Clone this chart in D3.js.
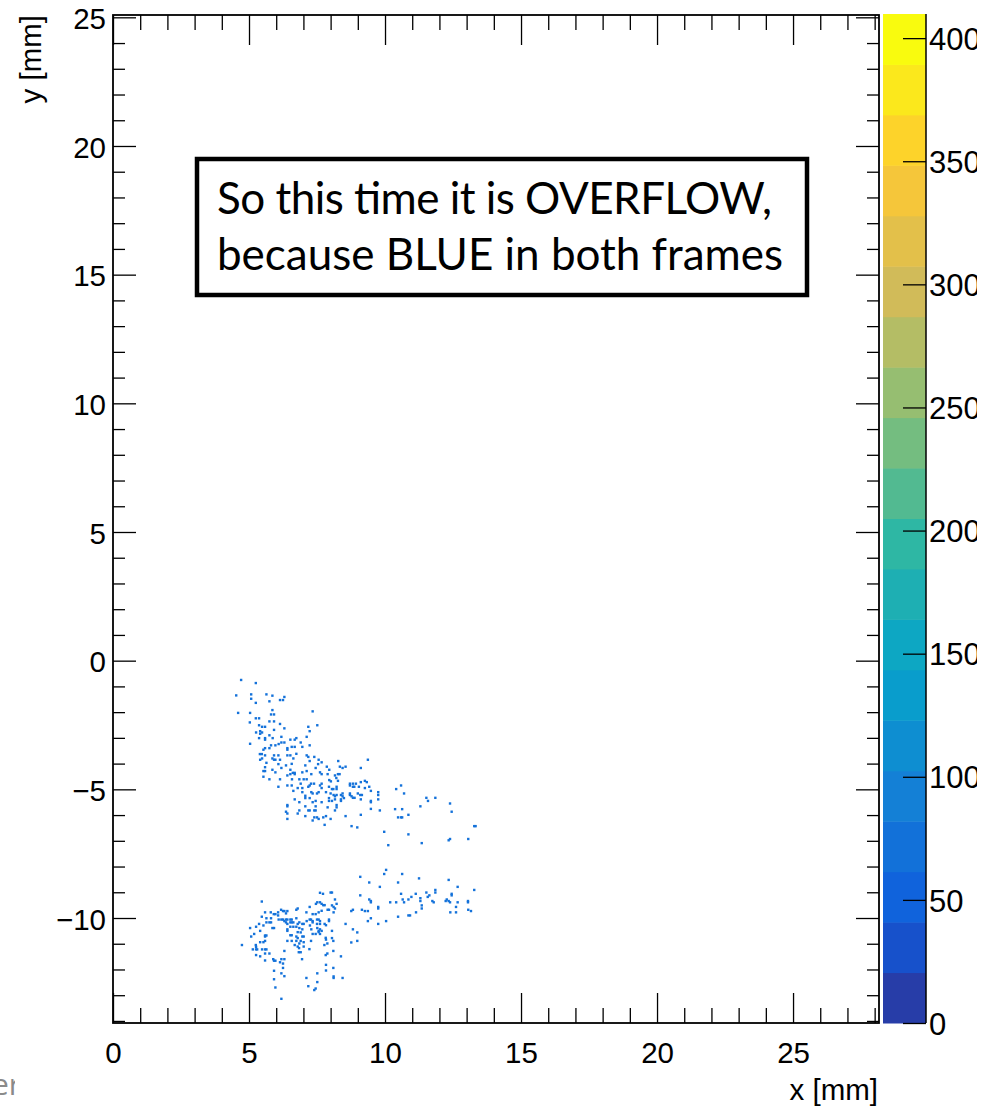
<!DOCTYPE html>
<html><head><meta charset="utf-8">
<script src="https://cdn.jsdelivr.net/npm/d3@7"></script>
<style>html,body{margin:0;padding:0;background:#fff;} svg{display:block;}</style>
</head><body>
<script>
// ---------- data ----------
const xTicks = [0, 5, 10, 15, 20, 25];
const yTicks = [-10, -5, 0, 5, 10, 15, 20, 25];
const zTicks = [0, 50, 100, 150, 200, 250, 300, 350, 400];
const xDomain = [0, 28.16];
const yDomain = [-14.08, 25.09];
const zDomain = [0, 409.8];
const nContours = 20;
const xTitle = "x [mm]";
const yTitle = "y [mm]";
const noteLines = ["So this time it is OVERFLOW,", "because BLUE in both frames"];
const footerText = "er";

// ROOT kBird palette stops
const birdStops = [0.0, 0.125, 0.25, 0.375, 0.5, 0.625, 0.75, 0.875, 1.0];
const birdR = [0.2082, 0.0592, 0.0780, 0.0232, 0.1802, 0.5301, 0.8186, 0.9956, 0.9764];
const birdG = [0.1664, 0.3599, 0.5041, 0.6419, 0.7178, 0.7492, 0.7328, 0.7862, 0.9832];
const birdB = [0.5293, 0.8684, 0.8385, 0.7914, 0.6425, 0.4662, 0.3499, 0.1968, 0.0539];

// hit positions [x mm, y mm] — upper frame
const hitsUpper = [[4.71,-0.75],[5.25,-0.87],[4.53,-1.35],[5.08,-1.31],[5.08,-1.48],[5.25,-1.64],[5.64,-1.31],[5.86,-1.36],[6.30,-1.41],[6.14,-1.53],
[6.25,-1.53],[5.75,-1.58],[4.60,-2.03],[5.04,-2.03],[7.34,-1.97],[5.86,-1.92],[5.81,-2.09],[5.92,-2.09],[5.25,-2.24],[5.37,-2.24],
[5.75,-2.36],[5.92,-2.36],[5.03,-2.40],[6.14,-2.46],[7.51,-2.51],[7.18,-2.57],[5.37,-2.51],[5.48,-2.57],[5.59,-2.57],[6.30,-2.63],
[5.92,-2.69],[5.41,-2.74],[5.48,-2.79],[5.26,-2.79],[7.23,-2.74],[5.41,-2.84],[5.75,-2.90],[6.19,-2.96],[7.12,-2.96],[5.37,-3.01],
[5.59,-3.01],[5.59,-3.07],[5.87,-3.01],[6.52,-3.07],[6.68,-3.07],[6.74,-3.01],[5.04,-3.23],[6.19,-3.18],[6.30,-3.18],[6.09,-3.24],
[5.97,-3.29],[5.75,-3.40],[5.53,-3.46],[5.59,-3.40],[5.81,-3.29],[6.57,-3.35],[6.68,-3.35],[6.41,-3.40],[6.41,-3.46],[6.90,-3.18],
[6.96,-3.35],[7.23,-3.29],[5.40,-3.63],[5.47,-3.63],[5.59,-3.68],[5.92,-3.68],[6.08,-3.68],[6.41,-3.68],[6.52,-3.68],[6.74,-3.62],
[5.41,-3.85],[5.48,-3.80],[5.86,-3.80],[5.92,-3.85],[5.97,-3.85],[6.14,-3.85],[6.63,-3.80],[7.12,-3.68],[7.18,-3.74],[7.40,-3.74],
[7.23,-3.90],[7.56,-3.85],[7.67,-3.95],[8.28,-3.90],[9.37,-3.85],[5.64,-3.97],[6.08,-4.02],[6.36,-4.07],[6.57,-4.01],[7.07,-4.07],
[7.54,-4.02],[5.59,-4.14],[6.19,-4.17],[6.52,-4.24],[7.45,-4.17],[7.86,-4.12],[8.34,-4.12],[8.44,-4.17],[8.55,-4.12],[7.95,-4.24],
[9.11,-4.17],[5.53,-4.29],[5.59,-4.29],[5.86,-4.24],[5.97,-4.34],[6.61,-4.36],[6.68,-4.36],[6.68,-4.41],[6.41,-4.46],[6.52,-4.41],
[6.96,-4.34],[7.12,-4.29],[7.29,-4.41],[7.61,-4.34],[7.67,-4.41],[7.89,-4.41],[8.16,-4.46],[8.27,-4.41],[8.33,-4.41],[5.53,-4.51],
[5.75,-4.61],[6.14,-4.61],[6.58,-4.61],[6.85,-4.61],[7.01,-4.61],[7.12,-4.61],[7.95,-4.64],[8.01,-4.69],[8.21,-4.56],[8.27,-4.67],
[7.28,-4.78],[7.39,-4.78],[7.67,-4.78],[6.90,-4.78],[8.71,-4.78],[8.82,-4.78],[8.93,-4.78],[8.71,-4.85],[9.11,-4.72],[9.26,-4.67],
[9.33,-4.72],[6.08,-4.90],[6.41,-4.85],[6.57,-4.85],[6.79,-4.95],[6.96,-4.95],[7.18,-4.90],[7.23,-4.85],[7.61,-4.85],[7.67,-4.95],
[7.94,-4.90],[8.05,-4.99],[8.10,-4.99],[8.22,-4.90],[8.22,-4.99],[8.82,-4.90],[8.87,-4.90],[9.04,-4.90],[9.26,-4.95],[9.42,-4.90],
[10.41,-4.99],[10.59,-4.85],[6.63,-5.06],[6.96,-5.11],[7.07,-5.25],[7.29,-5.11],[7.34,-5.16],[7.50,-5.16],[7.56,-5.11],[7.83,-5.11],
[8.00,-5.16],[8.11,-5.22],[8.16,-5.27],[8.22,-5.22],[8.38,-5.22],[8.44,-5.16],[8.44,-5.27],[8.71,-5.16],[8.71,-5.22],[8.77,-5.27],
[8.82,-5.33],[8.88,-5.33],[9.00,-5.16],[9.09,-5.22],[9.15,-5.22],[9.48,-5.06],[9.75,-5.11],[9.75,-5.22],[10.70,-5.16],[6.68,-5.39],
[6.85,-5.50],[7.07,-5.34],[7.23,-5.34],[7.34,-5.50],[7.45,-5.45],[7.67,-5.50],[7.94,-5.34],[7.94,-5.45],[8.05,-5.45],[8.16,-5.39],
[8.38,-5.39],[8.38,-5.45],[8.49,-5.34],[9.11,-5.39],[9.48,-5.45],[9.48,-5.50],[9.75,-5.39],[11.52,-5.33],[11.58,-5.45],[11.85,-5.33],
[12.39,-5.55],[6.41,-5.61],[6.41,-5.66],[7.07,-5.66],[7.45,-5.66],[7.89,-5.70],[8.22,-5.61],[8.22,-5.70],[11.30,-5.66],[6.36,-5.87],
[6.41,-5.94],[6.85,-5.82],[6.79,-5.94],[7.18,-5.82],[7.23,-5.82],[7.40,-5.82],[7.45,-5.82],[8.16,-5.82],[9.48,-5.76],[9.81,-5.82],
[10.37,-5.77],[10.63,-5.77],[12.45,-5.87],[7.07,-6.04],[7.40,-6.09],[7.50,-6.09],[7.56,-6.15],[7.73,-6.09],[7.83,-6.04],[8.00,-6.15],
[8.55,-6.04],[9.11,-5.99],[10.86,-5.99],[10.48,-6.09],[10.59,-6.09],[10.63,-6.09],[6.41,-6.15],[7.34,-6.21],[7.78,-6.38],[8.77,-6.43],
[8.98,-6.48],[9.97,-6.65],[10.86,-6.75],[13.28,-6.43],[13.33,-6.43],[12.39,-6.93],[13.06,-6.93],[10.12,-7.17],[11.35,-7.09],[12.34,-6.98]];

// hit positions [x mm, y mm] — lower frame
const hitsLower = [[10.04,-8.13],[9.97,-8.29],[10.63,-8.29],[9.09,-8.40],[11.25,-8.46],[12.34,-8.52],[9.42,-8.62],[10.48,-8.62],[12.67,-8.79],[9.81,-8.79],
[11.85,-8.91],[11.85,-9.01],[13.28,-8.91],[11.52,-9.01],[11.63,-9.12],[11.57,-9.18],[11.13,-9.06],[10.59,-9.06],[10.97,-9.18],[10.86,-9.28],
[10.65,-9.28],[10.70,-9.39],[10.41,-9.39],[10.19,-9.39],[11.30,-9.23],[11.30,-9.34],[11.35,-9.51],[11.35,-9.63],[11.74,-9.34],[11.79,-9.39],
[12.27,-9.28],[12.23,-9.34],[12.34,-9.34],[12.39,-9.39],[12.45,-9.06],[12.45,-9.12],[12.67,-9.39],[13.05,-9.34],[13.05,-9.39],[13.06,-9.68],
[13.16,-9.73],[12.61,-9.57],[12.40,-9.78],[12.61,-9.78],[11.14,-9.78],[10.86,-9.90],[10.92,-9.90],[10.48,-9.95],[10.04,-10.12],[9.75,-9.57],
[9.75,-9.63],[9.48,-9.34],[9.48,-9.39],[9.42,-9.28],[9.15,-9.68],[9.26,-9.73],[9.37,-9.73],[9.09,-9.12],[9.48,-10.01],[9.37,-10.12],
[9.75,-10.23],[8.82,-9.68],[8.76,-9.73],[8.55,-10.23],[8.82,-10.44],[8.98,-10.56],[8.76,-10.95],[8.98,-10.89],[8.38,-11.49],[8.44,-12.33],
[8.11,-12.27],[8.11,-12.33],[8.10,-11.94],[7.83,-11.82],[7.83,-12.04],[7.51,-12.15],[7.51,-12.49],[7.45,-12.74],[7.40,-12.80],[7.18,-12.65],
[7.11,-12.33],[6.19,-13.14],[5.97,-12.70],[5.92,-12.38],[5.92,-12.05],[6.30,-12.26],[6.19,-12.15],[6.25,-11.94],[6.25,-11.77],[6.30,-11.60],
[6.19,-11.60],[5.89,-11.60],[5.92,-11.66],[5.97,-11.66],[6.14,-11.72],[5.75,-11.38],[5.59,-11.38],[5.59,-11.65],[5.41,-11.49],[5.26,-11.44],
[6.30,-11.28],[6.95,-11.60],[6.90,-11.33],[6.83,-11.33],[7.22,-11.21],[7.82,-11.44],[7.88,-11.38],[8.10,-11.28],[7.77,-11.05],[8.10,-10.89],
[8.05,-10.78],[7.88,-10.99],[7.28,-10.89],[7.01,-10.94],[7.01,-11.11],[6.85,-10.99],[6.68,-11.05],[6.79,-11.11],[6.84,-11.17],[6.41,-10.89],
[6.57,-10.89],[6.74,-10.89],[4.74,-11.05],[5.08,-10.72],[5.19,-10.62],[5.41,-10.50],[5.26,-10.34],[5.04,-10.39],[5.37,-10.23],[5.53,-10.29],
[5.64,-10.17],[5.75,-10.17],[5.81,-10.17],[5.47,-9.95],[5.59,-9.78],[5.80,-9.78],[5.91,-9.85],[5.97,-9.85],[5.47,-9.36],[5.64,-10.01],
[5.81,-10.01],[5.86,-10.39],[5.92,-10.39],[5.59,-10.68],[5.59,-10.72],[5.64,-10.68],[5.41,-10.94],[5.53,-10.94],[5.59,-10.89],[5.25,-11.05],
[5.26,-11.12],[5.14,-11.22],[5.26,-11.22],[5.30,-11.22],[5.48,-11.22],[5.59,-11.22],[5.64,-11.22],[6.07,-9.78],[6.07,-9.90],[6.18,-9.68],
[6.25,-9.73],[6.30,-9.73],[6.36,-9.82],[6.41,-9.73],[6.09,-10.06],[6.19,-10.06],[6.25,-10.06],[6.36,-10.06],[6.41,-10.06],[6.52,-10.06],
[6.57,-10.06],[6.30,-10.12],[6.36,-10.17],[6.41,-10.23],[6.52,-10.17],[6.57,-10.17],[6.63,-10.17],[6.41,-10.44],[6.41,-10.50],[6.52,-10.34],
[6.63,-10.34],[6.74,-10.34],[6.85,-10.39],[6.79,-10.23],[6.85,-10.17],[6.74,-10.01],[6.79,-9.63],[6.74,-9.68],[6.96,-10.23],[7.01,-10.23],
[6.96,-10.44],[6.90,-10.56],[6.79,-10.55],[6.52,-10.67],[6.57,-10.67],[6.74,-10.72],[6.79,-10.78],[6.96,-10.72],[7.01,-10.72],[6.90,-10.89],
[7.11,-9.78],[7.23,-9.57],[7.34,-9.85],[7.12,-10.12],[7.23,-10.06],[7.28,-10.06],[7.34,-10.12],[7.34,-10.17],[7.24,-10.29],[7.29,-10.44],
[7.34,-10.62],[7.46,-9.45],[7.51,-9.39],[7.61,-9.02],[7.72,-9.06],[7.61,-9.39],[7.67,-9.45],[7.56,-9.78],[7.67,-9.72],[7.45,-9.85],
[7.50,-10.06],[7.56,-10.06],[7.61,-10.12],[7.50,-10.23],[7.61,-10.23],[7.51,-10.39],[7.61,-10.44],[7.56,-10.50],[7.67,-10.50],[7.45,-10.62],
[7.56,-10.55],[7.61,-10.62],[7.78,-10.23],[7.83,-10.28],[7.94,-10.06],[7.94,-10.12],[7.73,-9.50],[7.78,-9.50],[7.89,-9.68],[7.94,-9.68],
[8.00,-9.01],[8.05,-9.01],[8.05,-9.51],[8.11,-9.57],[8.16,-9.28],[8.22,-9.45],[8.16,-9.63],[8.11,-9.78],[8.05,-10.50],[7.82,-10.77],
[7.83,-10.84]];

// ---------- layout ----------
const W = 990, H = 1111;
const plot = {left: 113, right: 879, top: 15, bottom: 1023};
const cbar = {left: 883, right: 926, top: 14, bottom: 1023};
const labelFont = "'Liberation Sans', Arial, Helvetica, sans-serif";
const labelSize = 29.5;

const svg = d3.select("body").append("svg").attr("width", W).attr("height", H);

const x = d3.scaleLinear().domain(xDomain).range([plot.left, plot.right]);
const y = d3.scaleLinear().domain(yDomain).range([plot.bottom, plot.top]);
const z = d3.scaleLinear().domain(zDomain).range([cbar.bottom, cbar.top]);

const bird = d3.scaleLinear().domain(birdStops)
  .range(birdStops.map((s, i) => d3.rgb(birdR[i] * 255, birdG[i] * 255, birdB[i] * 255)))
  .interpolate(d3.interpolateRgb);

// footer fragment (slide text partly hidden behind the chart image)
svg.append("clipPath").attr("id", "footClip")
  .append("rect").attr("x", 0).attr("y", 1040).attr("width", 15).attr("height", 71);
svg.append("text").attr("clip-path", "url(#footClip)")
  .attr("x", -8).attr("y", 1095)
  .attr("font-family", "'Open Sans', 'Liberation Sans', sans-serif").attr("font-size", 30)
  .attr("fill", "#8a8a8a").text(footerText);

// ---------- hits ----------
const hitColor = "#1472da";
const hs = 2.4;
const hits = hitsUpper.concat(hitsLower);
svg.append("g").selectAll("rect").data(hits).join("rect")
  .attr("x", d => x(d[0]) - hs / 2).attr("y", d => y(d[1]) - hs / 2)
  .attr("width", hs).attr("height", hs).attr("fill", hitColor);

// ---------- axes ----------
const minorX = d3.range(Math.ceil(xDomain[0]), Math.floor(xDomain[1]) + 1).filter(v => v % 5 !== 0);
const minorY = d3.range(Math.ceil(yDomain[0]), Math.floor(yDomain[1]) + 1).filter(v => v % 5 !== 0);

function styleAxis(g) {
  g.select(".domain").remove();
  g.selectAll("line").attr("stroke", "#000").attr("stroke-width", 1.3);
  g.selectAll("text").attr("font-family", labelFont).attr("font-size", labelSize).attr("fill", "#000");
}

// bottom
svg.append("g").attr("transform", `translate(0,${plot.bottom})`)
  .call(d3.axisBottom(x).tickValues(xTicks).tickSizeInner(-30).tickSizeOuter(0).tickPadding(19).tickFormat(d3.format("d")))
  .call(styleAxis);
svg.append("g").attr("transform", `translate(0,${plot.bottom})`)
  .call(d3.axisBottom(x).tickValues(minorX).tickSizeInner(-15).tickSizeOuter(0).tickFormat(""))
  .call(styleAxis);
// top
svg.append("g").attr("transform", `translate(0,${plot.top})`)
  .call(d3.axisTop(x).tickValues(xTicks).tickSizeInner(-30).tickSizeOuter(0).tickFormat(""))
  .call(styleAxis);
svg.append("g").attr("transform", `translate(0,${plot.top})`)
  .call(d3.axisTop(x).tickValues(minorX).tickSizeInner(-15).tickSizeOuter(0).tickFormat(""))
  .call(styleAxis);
// left
const yFmt = v => (v < 0 ? "\u2212" + Math.abs(v) : String(v));
svg.append("g").attr("transform", `translate(${plot.left},0)`)
  .call(d3.axisLeft(y).tickValues(yTicks).tickSizeInner(-23).tickSizeOuter(0).tickPadding(7).tickFormat(yFmt))
  .call(styleAxis)
  .call(g => g.selectAll("text").attr("dy", "0.38em"));
svg.append("g").attr("transform", `translate(${plot.left},0)`)
  .call(d3.axisLeft(y).tickValues(minorY).tickSizeInner(-12).tickSizeOuter(0).tickFormat(""))
  .call(styleAxis);
// right
svg.append("g").attr("transform", `translate(${plot.right},0)`)
  .call(d3.axisRight(y).tickValues(yTicks).tickSizeInner(-23).tickSizeOuter(0).tickFormat(""))
  .call(styleAxis);
svg.append("g").attr("transform", `translate(${plot.right},0)`)
  .call(d3.axisRight(y).tickValues(minorY).tickSizeInner(-12).tickSizeOuter(0).tickFormat(""))
  .call(styleAxis);

// frame
svg.append("rect").attr("x", plot.left).attr("y", plot.top)
  .attr("width", plot.right - plot.left).attr("height", plot.bottom - plot.top)
  .attr("fill", "none").attr("stroke", "#000").attr("stroke-width", 1.8);

// axis titles
svg.append("text").attr("x", plot.right - 1).attr("y", 1100).attr("text-anchor", "end")
  .attr("font-family", labelFont).attr("font-size", 29.5).text(xTitle);
svg.append("text").attr("transform", `translate(41,${plot.top}) rotate(-90)`).attr("text-anchor", "end")
  .attr("font-family", labelFont).attr("font-size", 29.5).text(yTitle);

// ---------- colour bar ----------
const step = (zDomain[1] - zDomain[0]) / nContours;
const bands = d3.range(nContours).map(i => ({
  lo: zDomain[0] + i * step, hi: zDomain[0] + (i + 1) * step,
  c: bird(Math.floor((i + 0.99) * 255 / nContours) / 254)
}));
svg.append("g").selectAll("rect").data(bands).join("rect")
  .attr("x", cbar.left).attr("width", cbar.right - cbar.left)
  .attr("y", d => z(d.hi)).attr("height", d => z(d.lo) - z(d.hi) + 0.5)
  .attr("fill", d => d.c);

svg.append("clipPath").attr("id", "cbClip")
  .append("rect").attr("x", 0).attr("y", 0).attr("width", 977).attr("height", H);
svg.append("g").attr("clip-path", "url(#cbClip)")
  .append("g").attr("transform", `translate(${cbar.right},0)`)
  .call(d3.axisRight(z).tickValues(zTicks).tickSizeInner(-23).tickSizeOuter(0).tickPadding(3).tickFormat(d3.format("d")))
  .call(styleAxis)
  .call(g => g.selectAll("text").attr("font-size", 31).attr("dy", "0.36em"));
svg.append("line").attr("x1", cbar.right).attr("x2", cbar.right).attr("y1", cbar.top).attr("y2", cbar.bottom)
  .attr("stroke", "#000").attr("stroke-width", 1.5);

// ---------- annotation box ----------
const noteWidths = [555, 566];
svg.append("rect").attr("x", 197).attr("y", 159).attr("width", 610).attr("height", 136)
  .attr("fill", "#fff").attr("stroke", "#000").attr("stroke-width", 4.5);
svg.append("g").selectAll("text").data(noteLines).join("text")
  .attr("x", 217).attr("y", (d, i) => 214 + i * 56)
  .attr("font-family", "Lato, 'Open Sans', sans-serif").attr("font-size", 44).attr("fill", "#000")
  .attr("textLength", (d, i) => noteWidths[i]).attr("lengthAdjust", "spacing")
  .text(d => d);
</script>
</body></html>
